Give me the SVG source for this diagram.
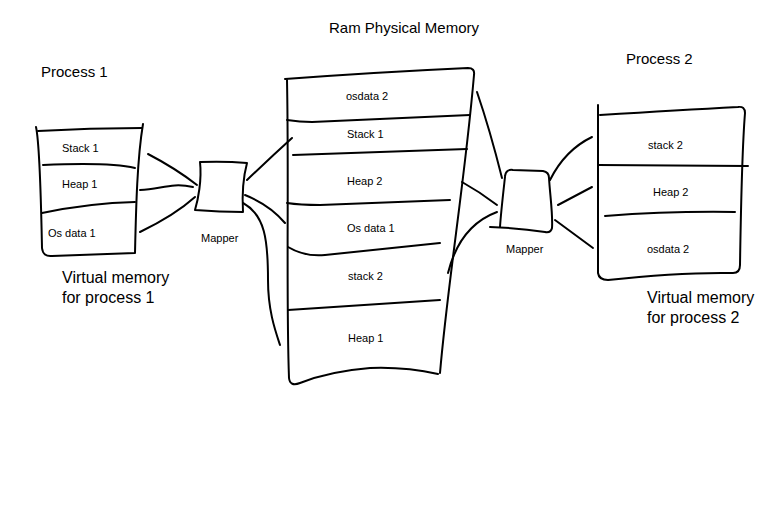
<svg xmlns="http://www.w3.org/2000/svg" width="772" height="508" viewBox="0 0 772 508">
<style>
.s{fill:none;stroke:#000;stroke-width:2;stroke-linecap:round;stroke-linejoin:round}
.t{font-family:"Liberation Sans",Arial,sans-serif;font-size:11px;fill:#000}
.l{font-family:"Liberation Sans",Arial,sans-serif;font-size:15px;fill:#000}
</style>
<rect width="772" height="508" fill="#fff"/>
<text class="l" x="329" y="33">Ram Physical Memory</text>
<g id="process1">
<text class="l" x="41" y="77">Process 1</text>
<path class="s" d="M36,127 C 40,145 41,200 42,248 Q 43,257 52,256 L 135,253 C 136,210 137,160 143,124"/>
<path class="s" d="M38,131 Q 90,128 142,128"/>
<path class="s" d="M43,165 Q 110,162 135,168"/>
<path class="s" d="M42,213 Q 90,203 135,202"/>
<text class="t" x="62" y="152">Stack 1</text>
<text class="t" x="62" y="188">Heap 1</text>
<text class="t" x="48" y="237">Os data 1</text>
<text class="l" x="62" y="283" style="font-size:16px">Virtual memory</text>
<text class="l" x="62" y="303" style="font-size:16px">for process 1</text>
</g>
<g id="mapper1">
<path class="s" d="M200,162 C 202,180 198,200 195,210 Q 220,212 243,212 C 242,195 243,178 247,163 Q 225,161 200,162 Z"/>
<text class="t" x="201" y="242">Mapper</text>
</g>
<g id="ram">
<path class="s" d="M285,79 Q 380,72 468,68 Q 475,68 474,75 C 465,180 448,280 440,373"/>
<path class="s" d="M287,80 C 289,180 286,300 289,378 Q 290,387 300,383 C 320,375 345,370 370,368 C 395,367 420,370 438,374"/>
<path class="s" d="M287,120 Q 300,122 312,122 L 470,115"/>
<path class="s" d="M293,155 L 467,149"/>
<path class="s" d="M287,203 Q 300,205 320,205 L 450,200"/>
<path class="s" d="M288,247 Q 305,257 325,255 L 440,243"/>
<path class="s" d="M288,310 L 440,300"/>
<text class="t" x="346" y="100">osdata 2</text>
<text class="t" x="347" y="138">Stack 1</text>
<text class="t" x="347" y="185">Heap 2</text>
<text class="t" x="347" y="232">Os data 1</text>
<text class="t" x="348" y="280">stack 2</text>
<text class="t" x="348" y="342">Heap 1</text>
</g>
<g id="mapper2">
<path class="s" d="M505,177 C 503,195 501,212 500,227"/>
<path class="s" d="M505,176 Q 506,169 513,170 L 543,171 Q 549,172 549,178 C 550,195 553,215 552,228 Q 551,233 545,232 Q 520,228 490,227"/>
<text class="t" x="506" y="253">Mapper</text>
</g>
<g id="process2">
<text class="l" x="626" y="64">Process 2</text>
<path class="s" d="M598,105 L 598,273 Q 599,280 608,280 Q 680,272 733,273 Q 740,273 740,265 C 741,200 742,150 745,113 Q 745,106 738,107 Q 680,110 600,115"/>
<path class="s" d="M598,165 L 748,166"/>
<path class="s" d="M605,216 Q 670,211 735,212"/>
<text class="t" x="648" y="149">stack 2</text>
<text class="t" x="653" y="196">Heap 2</text>
<text class="t" x="647" y="253">osdata 2</text>
<text class="l" x="647" y="303" style="font-size:16px">Virtual memory</text>
<text class="l" x="647" y="323" style="font-size:16px">for process 2</text>
</g>
<g id="connectors">
<path class="s" d="M148,154 Q 175,168 197,185"/>
<path class="s" d="M140,190 C 160,190 170,182 193,187"/>
<path class="s" d="M140,232 Q 175,215 195,197"/>
<path class="s" d="M247,180 Q 270,158 292,138"/>
<path class="s" d="M245,195 Q 270,205 285,223"/>
<path class="s" d="M243,203 C 265,215 268,240 268,280 C 268,310 275,330 280,345"/>
<path class="s" d="M477,92 Q 490,130 502,178"/>
<path class="s" d="M462,182 Q 480,192 497,205"/>
<path class="s" d="M448,273 C 455,245 470,222 497,212"/>
<path class="s" d="M550,180 Q 565,150 592,137"/>
<path class="s" d="M558,205 L 592,187"/>
<path class="s" d="M555,220 L 593,248"/>
</g>
</svg>
